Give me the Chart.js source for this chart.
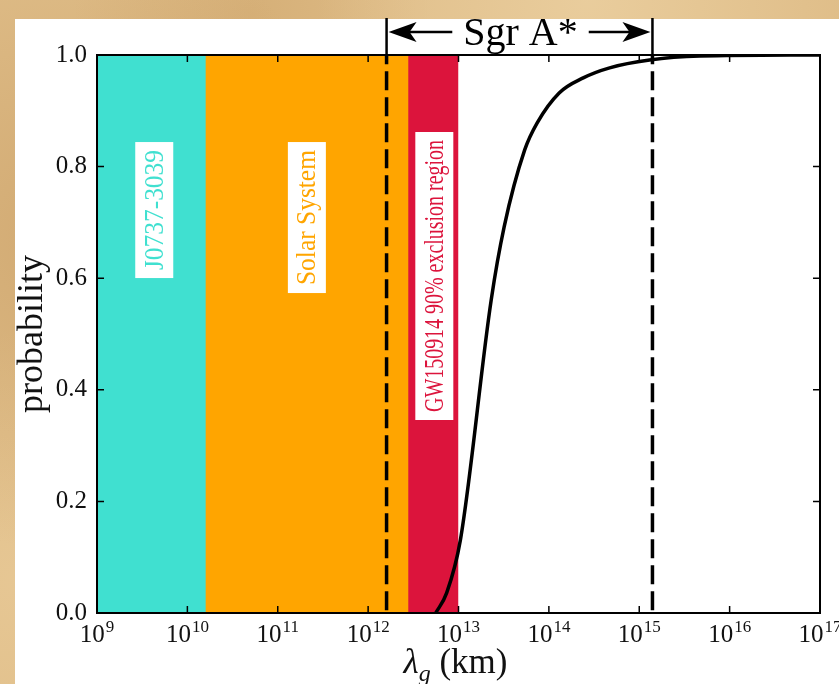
<!DOCTYPE html>
<html>
<head>
<meta charset="utf-8">
<script src="https://cdn.jsdelivr.net/npm/chart.js@4.4.0/dist/chart.umd.min.js"></script>
<style>
html,body{margin:0;padding:0;}
body{width:839px;height:684px;overflow:hidden;position:relative;
  background-color:#dfbd88;
  background-image:
    radial-gradient(circle at 8% 35%, rgba(185,135,75,.35), rgba(185,135,75,0) 35%),
    radial-gradient(circle at 70% 0%, rgba(240,215,170,.6), rgba(240,215,170,0) 30%),
    radial-gradient(circle at 2% 85%, rgba(235,205,155,.6), rgba(235,205,155,0) 25%),
    radial-gradient(circle at 30% 2%, rgba(200,155,95,.4), rgba(200,155,95,0) 20%);}
#panel{position:absolute;left:15px;top:19px;right:0;bottom:0;background:#fff;}
#wrap{position:absolute;left:0;top:0;width:839px;height:684px;}
</style>
</head>
<body>
<div id="panel"></div>
<div id="wrap"><canvas id="c" width="839" height="684"></canvas></div>
<script>
// cumulative probability curve
const lambdaKm = [5.6e12, 7.4e12, 1.05e13, 2.3e13, 3.2e13, 5.4e13, 7.4e13, 1.3e14, 2.4e14, 4.7e14, 1.3e15, 4.7e15, 1e17];
const prob     = [0, 0.036, 0.131, 0.561, 0.692, 0.830, 0.878, 0.932, 0.959, 0.977, 0.991, 0.998, 1.0];

// shaded bounds
const regionNames  = ['J0737-3039', 'Solar System', 'GW150914 90% exclusion region'];
const regionLo     = [1e9, 1.6e10, 2.8e12];
const regionHi     = [1.6e10, 2.8e12, 1e13];
const regionColors = ['#40e0d0', '#ffa500', '#dc143c'];
const labelAt      = [4.3e9, 2.1e11, 5.4e12];   // lambda where each label sits
const labelTop     = [0.844, 0.844, 0.862];      // probability at top of label box

const sgrA = [1.6e12, 1.4e15];
const xTicks = [1e9, 1e10, 1e11, 1e12, 1e13, 1e14, 1e15, 1e16, 1e17];
const yTicks = [0, 0.2, 0.4, 0.6, 0.8, 1.0];

const serif = '"Liberation Serif", "DejaVu Serif", serif';

let datasets = [];
datasets.push({
  data: lambdaKm.map((v, i) => ({x: v, y: prob[i]})),
  borderColor: '#000', borderWidth: 3.5, pointRadius: 0,
  cubicInterpolationMode: 'monotone', fill: false, order: 0
});
sgrA.forEach(v => {
  datasets.push({
    data: [{x: v, y: 0.005}, {x: v, y: 1}],
    borderColor: '#000', borderWidth: 3.5, borderDash: [19, 7],
    pointRadius: 0, fill: false, order: 1
  });
});
// regions stacked from the left edge, widest at the bottom, so no white seams
regionLo.forEach((lo, i) => {
  datasets.push({
    data: [{x: regionLo[0], y: 1}, {x: regionHi[i], y: 1}],
    borderWidth: 0, borderColor: 'rgba(0,0,0,0)', backgroundColor: regionColors[i],
    pointRadius: 0, fill: 'origin', order: 2 + i
  });
});

let regionLabels = {
  id: 'regionLabels',
  afterDatasetsDraw(chart) {
    const ctx = chart.ctx, xs = chart.scales.x, ys = chart.scales.y;
    const textLen = [120, 135, 272];
    ctx.save();
    ctx.font = '28px ' + serif;
    regionNames.forEach((name, i) => {
      let cx = xs.getPixelForValue(labelAt[i]);
      let top = ys.getPixelForValue(labelTop[i]);
      let len = Math.min(ctx.measureText(name).width, textLen[i]);
      let h = len + 16;
      ctx.fillStyle = '#fff';
      ctx.fillRect(cx - 19, top, 38, h);
      ctx.save();
      ctx.translate(cx + 1, top + h - 8);
      ctx.rotate(-Math.PI / 2);
      ctx.fillStyle = regionColors[i];
      ctx.textAlign = 'left';
      ctx.textBaseline = 'middle';
      ctx.fillText(name, 0, 0, len);
      ctx.restore();
    });
    ctx.restore();
  }
};

function arrowHead(ctx, tipX, y, dir) {
  ctx.beginPath();
  ctx.moveTo(tipX, y);
  ctx.lineTo(tipX + dir * 28, y - 10);
  ctx.lineTo(tipX + dir * 21, y);
  ctx.lineTo(tipX + dir * 28, y + 10);
  ctx.closePath();
  ctx.fill();
}

let frame = {
  id: 'frame',
  afterDraw(chart) {
    const ctx = chart.ctx, a = chart.chartArea;
    const xs = chart.scales.x, ys = chart.scales.y;
    ctx.save();
    ctx.strokeStyle = '#000';
    ctx.fillStyle = '#000';
    ctx.lineWidth = 2;
    ctx.strokeRect(a.left, a.top, a.right - a.left, a.bottom - a.top);

    // inward ticks
    ctx.lineWidth = 1.5;
    ctx.beginPath();
    xTicks.forEach(v => {
      let px = xs.getPixelForValue(v);
      ctx.moveTo(px, a.bottom); ctx.lineTo(px, a.bottom - 7);
      ctx.moveTo(px, a.top); ctx.lineTo(px, a.top + 7);
    });
    yTicks.forEach(v => {
      let py = ys.getPixelForValue(v);
      ctx.moveTo(a.left, py); ctx.lineTo(a.left + 7, py);
      ctx.moveTo(a.right, py); ctx.lineTo(a.right - 7, py);
    });
    ctx.stroke();

    // x tick labels 10^n
    ctx.fillStyle = '#111';
    ctx.textBaseline = 'alphabetic';
    ctx.textAlign = 'left';
    xTicks.forEach(v => {
      let px = xs.getPixelForValue(v);
      let e = String(Math.round(Math.log10(v)));
      ctx.font = '25px ' + serif;
      let w1 = ctx.measureText('10').width;
      ctx.font = '17px ' + serif;
      let w2 = ctx.measureText(e).width;
      let x0 = px - (w1 + w2 + 1) / 2;
      ctx.font = '25px ' + serif;
      ctx.fillText('10', x0, 642);
      ctx.font = '17px ' + serif;
      ctx.fillText(e, x0 + w1 + 1, 632);
    });

    // x title
    let cx = (a.left + a.right) / 2;
    ctx.font = 'italic 35px ' + serif;
    let wl = ctx.measureText('λ').width;
    ctx.font = 'italic 24px ' + serif;
    let wg = ctx.measureText('g').width;
    ctx.font = '35px ' + serif;
    let wk = ctx.measureText(' (km)').width;
    let x0 = cx - (wl + wg + wk) / 2 - 3;
    ctx.font = 'italic 35px ' + serif;
    ctx.fillText('λ', x0, 673);
    ctx.font = 'italic 24px ' + serif;
    ctx.fillText('g', x0 + wl, 681);
    ctx.font = '35px ' + serif;
    ctx.fillText(' (km)', x0 + wl + wg, 673);

    // y title
    ctx.save();
    ctx.translate(42, (a.top + a.bottom) / 2);
    ctx.rotate(-Math.PI / 2);
    ctx.textAlign = 'center';
    ctx.font = '36px ' + serif;
    ctx.fillText('probability', 0, 0);
    ctx.restore();

    // Sgr A* bracket
    let xl = xs.getPixelForValue(sgrA[0]), xr = xs.getPixelForValue(sgrA[1]);
    let yArr = 32;
    ctx.strokeStyle = '#000';
    ctx.fillStyle = '#000';
    ctx.lineWidth = 2.5;
    ctx.beginPath();
    ctx.moveTo(xl, 18); ctx.lineTo(xl, a.top);
    ctx.moveTo(xr, 18); ctx.lineTo(xr, a.top);
    ctx.stroke();
    ctx.font = '40px ' + serif;
    ctx.textAlign = 'center';
    ctx.textBaseline = 'alphabetic';
    let mid = (xl + xr) / 2;
    let tw = ctx.measureText('Sgr A*').width;
    ctx.fillText('Sgr A*', mid + 1, 45);
    ctx.lineWidth = 2.5;
    ctx.beginPath();
    ctx.moveTo(xl + 20, yArr); ctx.lineTo(mid - tw / 2 - 10, yArr);
    ctx.moveTo(xr - 20, yArr); ctx.lineTo(mid + tw / 2 + 12, yArr);
    ctx.stroke();
    arrowHead(ctx, xl + 2, yArr, 1);
    arrowHead(ctx, xr - 2, yArr, -1);
    ctx.restore();
  }
};

new Chart(document.getElementById('c'), {
  type: 'line',
  data: {datasets: datasets},
  options: {
    responsive: false,
    animation: false,
    layout: {padding: {top: 55, right: 19, left: 0, bottom: 0}},
    plugins: {legend: {display: false}, tooltip: {enabled: false}},
    scales: {
      x: {
        type: 'logarithmic', min: 1e9, max: 1e17,
        grid: {display: false, drawTicks: false},
        border: {display: false},
        ticks: {display: false},
        afterBuildTicks: s => { s.ticks = xTicks.map(v => ({value: v})); },
        afterFit: s => { s.height = 71; }
      },
      y: {
        type: 'linear', min: 0, max: 1,
        grid: {display: false, drawTicks: false},
        border: {display: false},
        ticks: {
          stepSize: 0.2, padding: 10, color: '#111',
          font: {family: serif, size: 25},
          callback: v => Number(v).toFixed(1)
        },
        afterFit: s => { s.width = 97; }
      }
    }
  },
  plugins: [regionLabels, frame]
});
</script>
</body>
</html>
